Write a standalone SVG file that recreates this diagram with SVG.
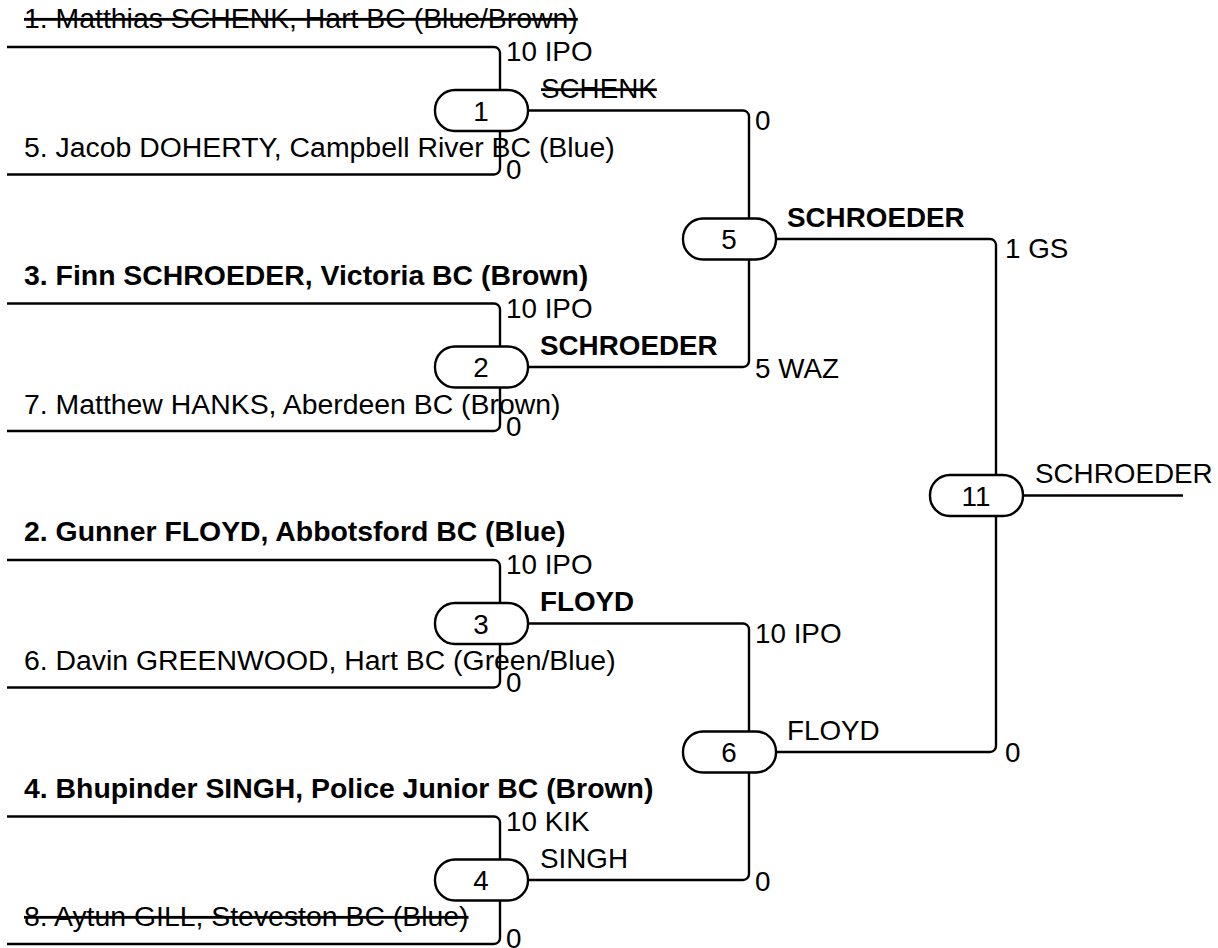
<svg xmlns="http://www.w3.org/2000/svg" width="1218" height="948" viewBox="0 0 1218 948">
<style>
text{font-family:"Liberation Sans",Arial,sans-serif;font-size:27.8px;fill:#000}
#entrants text{font-size:28.4px}
.b{font-weight:bold}
.s{text-decoration:line-through}
.n{text-anchor:middle}
.c{fill:none;stroke:#000;stroke-width:2.4}
.box{fill:#fff;stroke:#000;stroke-width:2.4}
</style>
<rect width="1218" height="948" fill="#fff"/>
<g id="connectors">
<path class="c" d="M7,47H494A6,6 0 0 1 500,53V90"/>
<path class="c" d="M7,174.5H494A6,6 0 0 0 500,168.5V131"/>
<path class="c" d="M7,303.5H494A6,6 0 0 1 500,309.5V346.5"/>
<path class="c" d="M7,431H494A6,6 0 0 0 500,425V387.5"/>
<path class="c" d="M7,560H494A6,6 0 0 1 500,566V603"/>
<path class="c" d="M7,687.5H494A6,6 0 0 0 500,681.5V644"/>
<path class="c" d="M7,816.5H494A6,6 0 0 1 500,822.5V859.5"/>
<path class="c" d="M7,944H494A6,6 0 0 0 500,938V900.5"/>
<path class="c" d="M526,110.5H743A6,6 0 0 1 749,116.5V218.5"/>
<path class="c" d="M526,367H743A6,6 0 0 0 749,361V259.5"/>
<path class="c" d="M526,623.5H743A6,6 0 0 1 749,629.5V731.5"/>
<path class="c" d="M526,880H743A6,6 0 0 0 749,874V772.5"/>
<path class="c" d="M774,239H990A6,6 0 0 1 996,245V475"/>
<path class="c" d="M774,752H990A6,6 0 0 0 996,746V516"/>
<path class="c" d="M1021,495.5H1183"/>
</g>
<g id="entrants">
<text x="24" y="28" class="s">1. Matthias SCHENK, Hart BC (Blue/Brown)</text>
<text x="24" y="157">5. Jacob DOHERTY, Campbell River BC (Blue)</text>
<text x="24" y="284.5" class="b">3. Finn SCHROEDER, Victoria BC (Brown)</text>
<text x="24" y="413.5">7. Matthew HANKS, Aberdeen BC (Brown)</text>
<text x="24" y="541" class="b">2. Gunner FLOYD, Abbotsford BC (Blue)</text>
<text x="24" y="670">6. Davin GREENWOOD, Hart BC (Green/Blue)</text>
<text x="24" y="797.5" class="b">4. Bhupinder SINGH, Police Junior BC (Brown)</text>
<text x="24" y="926" class="s">8. Aytun GILL, Steveston BC (Blue)</text>
</g>
<g id="m1"><rect class="box" x="435" y="90" width="93" height="41" rx="20"/><text x="481" y="120.5" class="n">1</text>
<text x="506" y="61">10 IPO</text><text x="506" y="179">0</text><text x="541" y="98" class="s">SCHENK</text></g>
<g id="m2"><rect class="box" x="435" y="346.5" width="93" height="41" rx="20"/><text x="481" y="377" class="n">2</text>
<text x="506" y="317.5">10 IPO</text><text x="506" y="436">0</text><text x="540" y="355" class="b">SCHROEDER</text></g>
<g id="m3"><rect class="box" x="435" y="603" width="93" height="41" rx="20"/><text x="481" y="633.5" class="n">3</text>
<text x="506" y="574">10 IPO</text><text x="506" y="692">0</text><text x="540" y="611" class="b">FLOYD</text></g>
<g id="m4"><rect class="box" x="435" y="859.5" width="93" height="41" rx="20"/><text x="481" y="890" class="n">4</text>
<text x="506" y="830.5">10 KIK</text><text x="506" y="948">0</text><text x="540" y="868">SINGH</text></g>
<g id="m5"><rect class="box" x="683" y="218.5" width="93" height="41" rx="20"/><text x="729" y="249" class="n">5</text>
<text x="755" y="130">0</text><text x="755" y="378">5 WAZ</text><text x="787" y="227" class="b">SCHROEDER</text></g>
<g id="m6"><rect class="box" x="683" y="731.5" width="93" height="41" rx="20"/><text x="729" y="762" class="n">6</text>
<text x="755" y="643">10 IPO</text><text x="755" y="891">0</text><text x="787" y="740">FLOYD</text></g>
<g id="m11"><rect class="box" x="930" y="475" width="93" height="41" rx="20"/><text x="976" y="505.5" class="n">11</text>
<text x="1005" y="258">1 GS</text><text x="1005" y="762">0</text><text x="1035" y="483">SCHROEDER</text></g>
</svg>
